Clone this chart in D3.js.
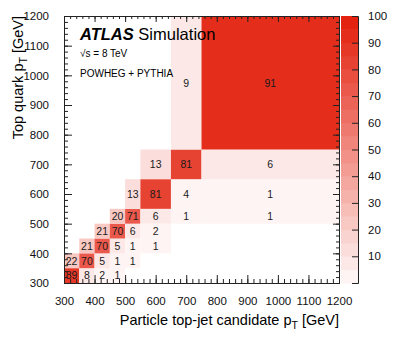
<!DOCTYPE html>
<meta charset="utf-8">
<head>
<script src="https://cdn.jsdelivr.net/npm/d3@7"></script>
<style>
body { margin: 0; background: #fff; }
svg { font-family: "Liberation Sans", Arial, Helvetica, sans-serif; }
.tick text { font-size: 11.5px; fill: #111; }
.axis path, .axis line { stroke: #222; }
.cell-label { font-size: 10.5px; fill: #1a1a1a; text-anchor: middle; }
</style>
</head>
<body>
<script>

// bin edges (GeV), same for both axes
var binEdges = [300, 350, 400, 450, 500, 550, 650, 750, 1200];

// migration matrix in %, one row per top quark pT bin (bottom to top)
var row300 = [89, 8, 2, 1, 0, 0, 0, 0];
var row350 = [22, 70, 5, 1, 1, 0, 0, 0];
var row400 = [0, 21, 70, 5, 1, 1, 0, 0];
var row450 = [0, 0, 21, 70, 6, 2, 0, 0];
var row500 = [0, 0, 0, 20, 71, 6, 1, 1];
var row550 = [0, 0, 0, 0, 13, 81, 4, 1];
var row650 = [0, 0, 0, 0, 0, 13, 81, 6];
var row750 = [0, 0, 0, 0, 0, 0, 9, 91];
var rows = [row300, row350, row400, row450, row500, row550, row650, row750];

var axisTicks = [300, 400, 500, 600, 700, 800, 900, 1000, 1100, 1200];
var zTicks = [10, 20, 30, 40, 50, 60, 70, 80, 90, 100];

var margin = {top: 16, right: 60, bottom: 54, left: 64},
    width = 275,
    height = 267;

var svg = d3.select("body").append("svg")
    .attr("width", 399)
    .attr("height", 337);

var g = svg.append("g")
    .attr("transform", "translate(" + margin.left + "," + margin.top + ")");

var x = d3.scaleLinear().domain([300, 1200]).range([0, width]);
var y = d3.scaleLinear().domain([300, 1200]).range([height, 0]);
var z = d3.scaleLinear().domain([0, 100]).range([height, 0]);

// ROOT-like stepped palette, 20 contours
var interp = d3.interpolateRgb("#ffffff", "#e3220f");
function bandColor(v) {
  var t = Math.min(1, (Math.floor(v / 5) + 1) / 20);
  return interp(t);
}

// flatten the cells
var cells = [];
rows.forEach(function(r, j) {
  r.forEach(function(v, i) {
    if (v > 0) cells.push({i: i, j: j, v: v});
  });
});

g.selectAll("rect.cell")
    .data(cells)
  .enter().append("rect")
    .attr("class", "cell")
    .attr("x", function(d) { return x(binEdges[d.i]); })
    .attr("y", function(d) { return y(binEdges[d.j + 1]); })
    .attr("width", function(d) { return x(binEdges[d.i + 1]) - x(binEdges[d.i]); })
    .attr("height", function(d) { return y(binEdges[d.j]) - y(binEdges[d.j + 1]); })
    .attr("fill", function(d) { return bandColor(d.v); });

g.selectAll("text.cell-label")
    .data(cells)
  .enter().append("text")
    .attr("class", "cell-label")
    .attr("x", function(d) { return (x(binEdges[d.i]) + x(binEdges[d.i + 1])) / 2; })
    .attr("y", function(d) { return (y(binEdges[d.j]) + y(binEdges[d.j + 1])) / 2; })
    .attr("dy", "0.36em")
    .text(function(d) { return d.v; });

// axes: major ticks with labels, minor ticks every 20, ticks inside on all sides
var minor = d3.range(300, 1201, 20);
var fmt = d3.format("d");

var bottomAx = g.append("g").attr("class", "axis")
    .attr("transform", "translate(0," + height + ")");
bottomAx.call(d3.axisBottom(x).tickValues(minor).tickSize(-4).tickFormat(""));
bottomAx.append("g").call(d3.axisBottom(x).tickValues(axisTicks).tickSize(-8)
    .tickPadding(14).tickFormat(fmt));

var leftAx = g.append("g").attr("class", "axis");
leftAx.call(d3.axisLeft(y).tickValues(minor).tickSize(-4).tickFormat(""));
leftAx.append("g").call(d3.axisLeft(y).tickValues(axisTicks).tickSize(-8)
    .tickPadding(15).tickFormat(fmt));

var topAx = g.append("g").attr("class", "axis");
topAx.call(d3.axisTop(x).tickValues(minor).tickSize(-3).tickFormat(""));
topAx.append("g").call(d3.axisTop(x).tickValues(axisTicks).tickSize(-6).tickFormat(""));

var rightAx = g.append("g").attr("class", "axis")
    .attr("transform", "translate(" + width + ",0)");
rightAx.call(d3.axisRight(y).tickValues(minor).tickSize(-3).tickFormat(""));
rightAx.append("g").call(d3.axisRight(y).tickValues(axisTicks).tickSize(-6).tickFormat(""));

g.selectAll(".axis .domain").attr("stroke", "#333");

// axis titles
g.append("text")
    .attr("x", width)
    .attr("y", height + 42)
    .attr("text-anchor", "end")
    .style("font-size", "14.5px")
    .html("Particle top-jet candidate p<tspan dy='4' font-size='10.5px'>T</tspan><tspan dy='-4'> [GeV]</tspan>");

g.append("text")
    .attr("transform", "rotate(-90)")
    .attr("x", 0)
    .attr("y", -41)
    .attr("text-anchor", "end")
    .style("font-size", "14.5px")
    .html("Top quark p<tspan dy='4' font-size='10.5px'>T</tspan><tspan dy='-4'> [GeV]</tspan>");

// ATLAS label
var lab = g.append("text").attr("x", 16).attr("y", 24).style("font-size", "16.5px");
lab.append("tspan").attr("font-weight", "bold").attr("font-style", "italic").text("ATLAS");
lab.append("tspan").text(" Simulation");

g.append("text").attr("x", 16).attr("y", 41).style("font-size", "10px")
    .text("\u221As = 8 TeV");
g.append("text").attr("x", 16).attr("y", 61).style("font-size", "10px")
    .text("POWHEG + PYTHIA");

// colour bar
var cb = svg.append("g").attr("transform", "translate(341," + margin.top + ")");
var cbW = 17;
cb.selectAll("rect")
    .data(d3.range(0, 100, 5))
  .enter().append("rect")
    .attr("x", 0)
    .attr("y", function(d) { return z(d + 5); })
    .attr("width", cbW)
    .attr("height", function(d) { return z(d) - z(d + 5) + 0.5; })
    .attr("fill", function(d) { return bandColor(d); });

var cbAx = cb.append("g").attr("class", "axis")
    .attr("transform", "translate(" + cbW + ",0)")
    .call(d3.axisRight(z).tickValues(zTicks).tickSize(-6).tickPadding(10));
cbAx.select(".domain").attr("stroke", "#999");
cbAx.selectAll(".tick line").attr("stroke", "#555");

</script>
</body>
